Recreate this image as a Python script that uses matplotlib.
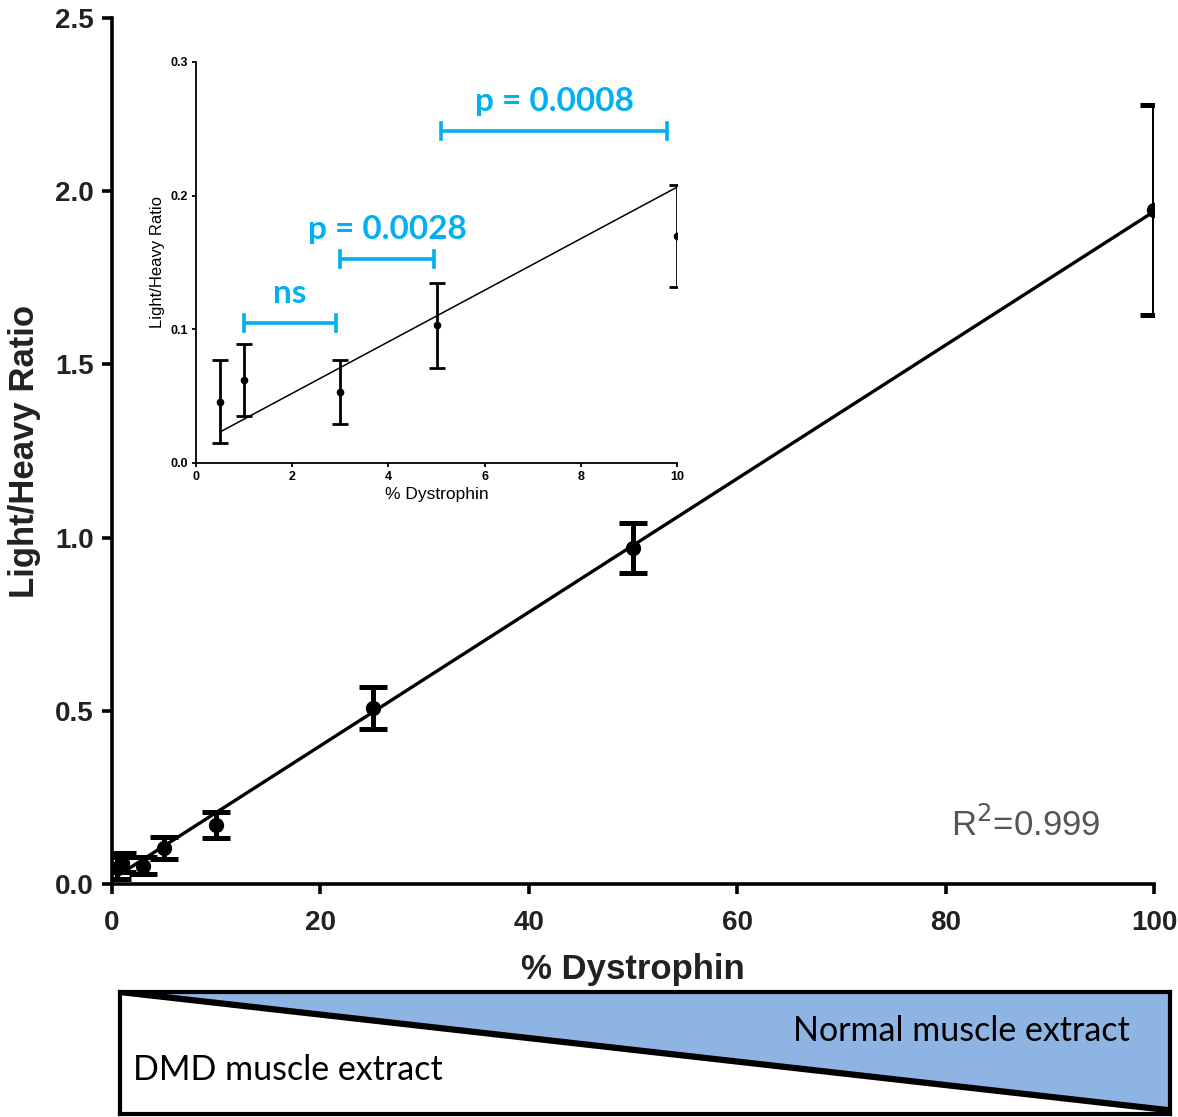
import matplotlib.pyplot as plt
import numpy as np
from matplotlib.patches import Polygon

# dystrophin standards: % of normal muscle extract spiked into DMD extract
pct = np.array([0.5, 1, 3, 5, 10, 25, 50, 100])
ratio = np.array([0.046, 0.062, 0.053, 0.103, 0.170, 0.508, 0.970, 1.946])
err = np.array([0.031, 0.027, 0.024, 0.032, 0.038, 0.060, 0.072, 0.303])

# pairwise comparisons shown on the low-range inset
sig_pairs = [(1.0, 2.9), (3.0, 4.95), (5.1, 9.8)]
sig_y = [0.105, 0.1525, 0.2485]
sig_text = ['ns', 'p = 0.0028', 'p = 0.0008']
r2_label = 'R$^2$=0.999'

cyan = '#00B0F0'
plt.rcParams['font.family'] = ['Liberation Sans', 'DejaVu Sans']

fig = plt.figure(figsize=(11.78, 11.17), dpi=100)

slope, icpt = np.polyfit(pct, ratio, 1)

# main calibration curve
ax = fig.add_axes([0.0951, 0.2086, 0.8845, 0.7753])
xfit = np.array([pct.min(), pct.max()])
ax.plot(xfit, slope * xfit + icpt, color='black', lw=2.4, zorder=2)
ax.errorbar(pct, ratio, yerr=err, fmt='o', color='black', ms=10,
            elinewidth=3.6, capsize=10, capthick=3.6, zorder=3)
ax.set_xlim(0, 100)
ax.set_ylim(0, 2.5)
ax.set_xticks(np.arange(0, 101, 20))
ax.set_yticks(np.arange(0, 2.51, 0.5))
ax.set_yticklabels(['%.1f' % v for v in np.arange(0, 2.51, 0.5)])
for s in ['top', 'right']:
    ax.spines[s].set_visible(False)
for s in ['left', 'bottom']:
    ax.spines[s].set_linewidth(2.6)
ax.tick_params(width=2.6, length=7, labelsize=20, labelcolor='#222222')
ax.tick_params(axis='x', pad=12)
ax.tick_params(axis='y', pad=6)
for lab in ax.get_xticklabels() + ax.get_yticklabels():
    lab.set_fontweight('bold')
ax.set_xlabel('% Dystrophin', fontsize=25, fontweight='bold', color='#222222', labelpad=12)
ax.set_ylabel('Light/Heavy Ratio', fontsize=25, fontweight='bold', color='#222222', labelpad=10)
ax.text(0.877, 0.068, r2_label, transform=ax.transAxes, fontsize=25,
        color='#555555', ha='center', va='center')

# inset: low-range standards
ins = fig.add_axes([0.1664, 0.5855, 0.4083, 0.359])
low = pct <= 10
xl = np.array([pct[low].min(), pct[low].max()])
ins.plot(xl, slope * xl + icpt, color='black', lw=1.1, zorder=2)
ins.errorbar(pct[low], ratio[low], yerr=err[low], fmt='o', color='black', ms=4.5,
             elinewidth=2, capsize=6, capthick=2, zorder=3)
ins.set_xlim(0, 10)
ins.set_ylim(0, 0.3)
ins.set_xticks(np.arange(0, 11, 2))
ins.set_yticks([0, 0.1, 0.2, 0.3])
ins.set_yticklabels(['0.0', '0.1', '0.2', '0.3'])
for s in ['top', 'right']:
    ins.spines[s].set_visible(False)
for s in ['left', 'bottom']:
    ins.spines[s].set_linewidth(1.3)
ins.tick_params(width=1.3, length=3, labelsize=9, pad=3)
for lab in ins.get_xticklabels() + ins.get_yticklabels():
    lab.set_fontweight('bold')
ins.set_xlabel('% Dystrophin', fontsize=12.5, labelpad=3)
ins.set_ylabel('Light/Heavy Ratio', fontsize=12, labelpad=4)
ins.patch.set_alpha(0)

for (x0, x1), y, t in zip(sig_pairs, sig_y, sig_text):
    ins.plot([x0, x1], [y, y], color=cyan, lw=2.6, solid_capstyle='butt')
    for xe in (x0, x1):
        ins.plot([xe, xe], [y - 0.006, y + 0.006], color=cyan, lw=2.6)
    ins.text((x0 + x1) / 2, y + 0.011, t, color=cyan, fontsize=24,
             fontweight='bold', family=['Lato', 'DejaVu Sans'], ha='center', va='bottom')

# mixing banner below the axis
ban = fig.add_axes([0.1019, 0.0027, 0.8913, 0.1092])
ban.set_xlim(0, 1)
ban.set_ylim(0, 1)
ban.add_patch(Polygon([[0, 1], [1, 1], [1, 0.03]], closed=True,
                      facecolor='#8EB4E3', edgecolor='none'))
ban.plot([0, 1], [1, 0.03], color='black', lw=4.5, solid_capstyle='butt')
ban.set_xticks([])
ban.set_yticks([])
for s in ban.spines.values():
    s.set_linewidth(3)
ban.text(0.962, 0.68, 'Normal muscle extract', fontsize=24.5, family=['Lato', 'DejaVu Sans'],
         ha='right', va='center')
ban.text(0.012, 0.36, 'DMD muscle extract', fontsize=24.5, family=['Lato', 'DejaVu Sans'],
         ha='left', va='center')

fig.savefig('out.png', dpi=100)
